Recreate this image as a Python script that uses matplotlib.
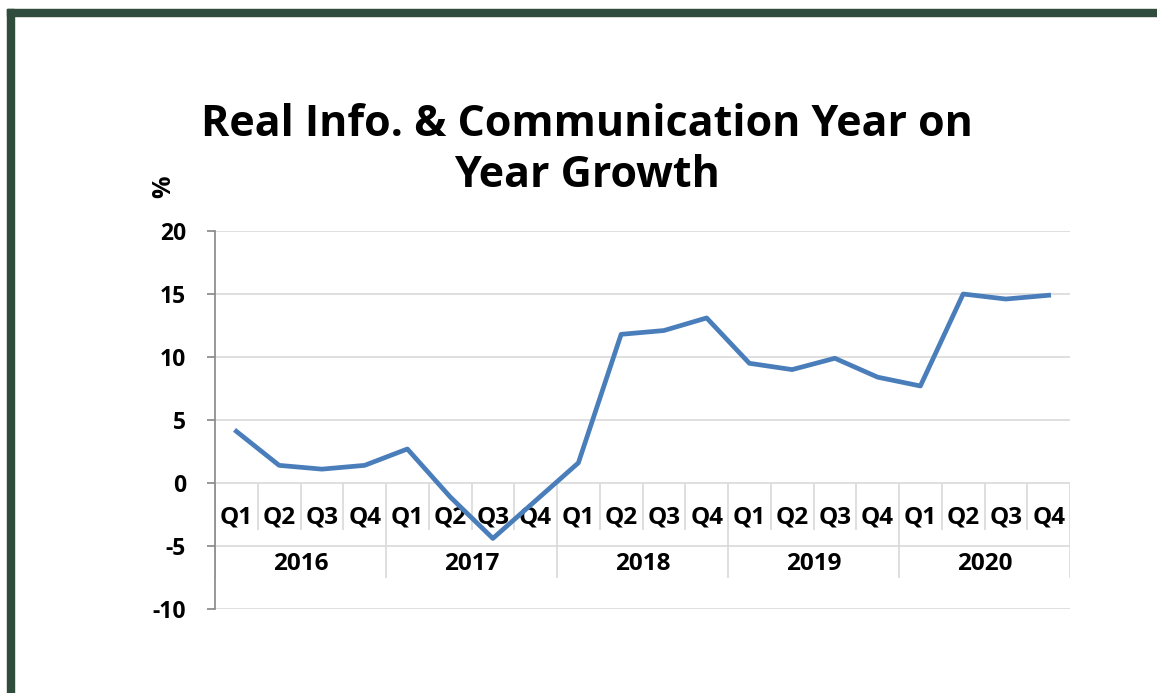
import matplotlib.pyplot as plt
from matplotlib.patches import Rectangle

years = ["2016", "2017", "2018", "2019", "2020"]
quarters = ["Q1", "Q2", "Q3", "Q4"]
growth = [4.1, 1.4, 1.1, 1.4,
          2.7, -1.1, -4.4, -1.4,
          1.6, 11.8, 12.1, 13.1,
          9.5, 9.0, 9.9, 8.4,
          7.7, 15.0, 14.6, 14.9]
yticks = [-10, -5, 0, 5, 10, 15, 20]

plt.rcParams['font.family'] = ['Open Sans', 'DejaVu Sans']
plt.rcParams['font.weight'] = 'bold'

fig = plt.figure(figsize=(11.57, 6.93), dpi=100)
ax = fig.add_axes([215/1157, 1-609/693, 855/1157, 378/693])

# frame of the slide
green = '#2F4C3C'
fig.patches.append(Rectangle((7/1157, 0), 7/1157, 1-9/693, transform=fig.transFigure, color=green))
fig.patches.append(Rectangle((7/1157, 1-16/693), 1, 7/693, transform=fig.transFigure, color=green))

n = len(growth)
x = [i + 0.5 for i in range(n)]
ax.plot(x, growth, color='#4A7EBB', lw=3.4, zorder=5)

ax.set_xlim(0, n)
ax.set_ylim(-10, 20)
ax.set_yticks(yticks)
ax.set_yticklabels([str(v) for v in yticks], fontsize=16.5, fontweight='bold')
ax.set_xticks([])
for v in yticks:
    ax.axhline(v, color='#D9D9D9', lw=1.2, zorder=1)
for s in ['top', 'right', 'bottom']:
    ax.spines[s].set_visible(False)
ax.spines['left'].set_color('#868686')
ax.spines['left'].set_linewidth(1.2)
ax.tick_params(axis='y', length=6, color='#868686', width=1.2, pad=15)

# multi-level category axis
qsep = [i for i in range(1, n) if i % 4 != 0]
ysep = [i for i in range(0, n + 1, 4)]
ax.vlines(qsep, -3.75, 0, color='#D9D9D9', lw=1.2, zorder=1)
ax.vlines(ysep, -7.55, 0, color='#D9D9D9', lw=1.2, zorder=1)
for i in range(n):
    ax.text(x[i], -2.75, quarters[i % 4], ha='center', va='center', fontsize=17.5, fontweight='bold')
for j, yr in enumerate(years):
    ax.text(j*4 + 2, -6.4, yr, ha='center', va='center', fontsize=17.5, fontweight='bold')

fig.text(164/1157, 1-187/693, '%', rotation=90, ha='center', va='center', fontsize=18, fontweight='bold')
fig.text(587/1157, 1-150/693, 'Real Info. & Communication Year on\nYear Growth', ha='center', va='center',
         fontsize=31, fontweight='bold', linespacing=1.22)

fig.savefig('out.png', dpi=100)
